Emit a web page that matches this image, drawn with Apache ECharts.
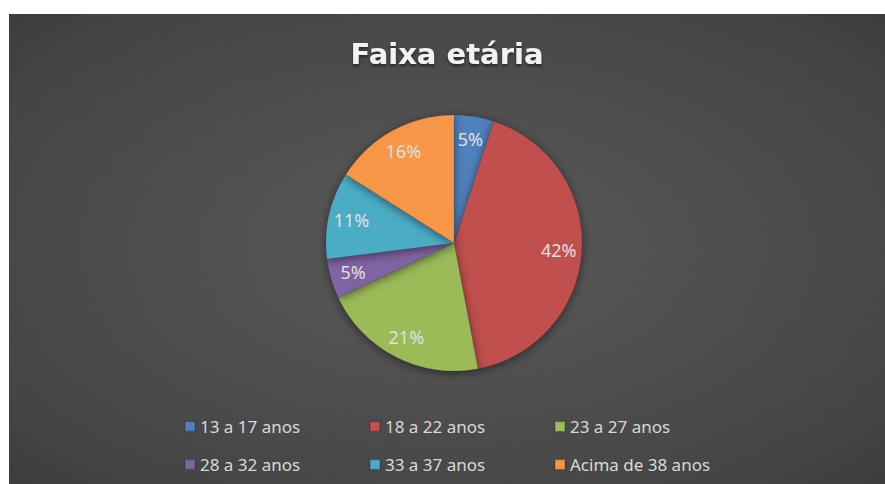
<!DOCTYPE html>
<html>
<head>
<meta charset="utf-8">
<script src="https://cdn.jsdelivr.net/npm/echarts@6/dist/echarts.min.js"></script>
<style>
  html, body { margin: 0; padding: 0; background: #fff; }
  #chart { position: absolute; left: 9px; top: 14px; width: 876px; height: 470px; }
</style>
</head>
<body>
<div id="chart"></div>
<script>
(function() {
  // faixas etárias e percentagens
  var faixas = ['13 a 17 anos', '18 a 22 anos', '23 a 27 anos', '28 a 32 anos', '33 a 37 anos', 'Acima de 38 anos'];
  var valores = [5, 42, 21, 5, 11, 16];
  var cores = ['#4F81BD', '#C0504D', '#9BBB59', '#8064A2', '#4BACC6', '#F79646'];

  var dados = faixas.map(function(nome, i) {
    return { name: nome, value: valores[i], itemStyle: { color: cores[i] } };
  });

  var chart = echarts.init(document.getElementById('chart'), null, { renderer: 'svg' });

  // legenda em grelha 3 x 2
  var legendas = faixas.map(function(nome, i) {
    return {
      data: [nome],
      left: 170 + (i % 3) * 185,
      top: 399 + Math.floor(i / 3) * 38,
      itemWidth: 10, itemHeight: 10,
      icon: 'rect',
      textStyle: { color: '#D9D9D9', fontSize: 17, fontFamily: 'Noto Sans' }
    };
  });

  chart.setOption({
    animation: false,
    backgroundColor: {
      type: 'radial', x: 0.5, y: 0.5, r: 1.0,
      colorStops: [
        { offset: 0, color: '#5a5a5a' },
        { offset: 0.6, color: '#444444' },
        { offset: 1, color: '#262626' }
      ]
    },
    title: {
      text: 'Faixa etária',
      left: 'center',
      top: 20,
      textStyle: {
        color: '#F2F2F2', fontSize: 29, fontWeight: 'bold', fontFamily: 'DejaVu Sans',
        textShadowColor: 'rgba(0,0,0,0.5)', textShadowBlur: 3, textShadowOffsetY: 2
      }
    },
    legend: legendas,
    series: [{
      type: 'pie',
      center: [445, 229],
      radius: 128,
      data: dados,
      label: { show: false },
      labelLine: { show: false },
      itemStyle: {
        borderColor: 'rgba(0,0,0,0.15)', borderWidth: 0.5,
        shadowBlur: 10, shadowColor: 'rgba(0,0,0,0.5)', shadowOffsetY: 2
      }
    }, {
      // série transparente só para posicionar os rótulos
      type: 'pie',
      center: [445, 229],
      radius: [76, 128],
      silent: true,
      legendHoverLink: false,
      data: faixas.map(function(nome, i) { return { name: nome, value: valores[i] }; }),
      itemStyle: { color: 'rgba(0,0,0,0)' },
      label: {
        show: true,
        position: 'inside',
        color: '#E0E0E0',
        fontSize: 18,
        fontFamily: 'Noto Sans',
        formatter: function(p) { return p.value + '%'; }
      },
      labelLine: { show: false }
    }]
  });
  window.addEventListener('resize', function() { chart.resize(); });
})();
</script>
</body>
</html>
